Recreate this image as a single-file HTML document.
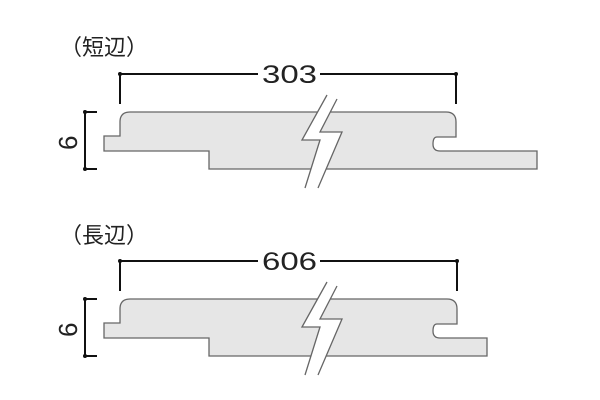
<!DOCTYPE html>
<html><head><meta charset="utf-8"><style>
html,body{margin:0;padding:0;background:#fff;width:600px;height:400px;overflow:hidden}
</style></head><body>
<svg width="600" height="400" viewBox="0 0 600 400" xmlns="http://www.w3.org/2000/svg">
<g font-family="'Liberation Sans','Noto Sans CJK JP',sans-serif" fill="#222" font-size="22">
<text x="60" y="55">（短辺）</text>
<text x="60" y="243">（長辺）</text>
</g>
<g stroke="#666" stroke-width="1.3" fill="#e6e6e6">
<path d="M104,136 H120 V122 Q120,112 130,112 H446 Q456,112 456,122 V137 H437 Q433,137 433,144 Q433,151 440,151 H537 V169 H209 V151 H104 Z"/>
<path d="M104,323 H120 V309 Q120,299 130,299 H447 Q457,299 457,309 V324 H437 Q433,324 433,331 Q433,338 440,338 H487 V356 H209 V338 H104 Z"/>
</g>
<g>
<polygon points="327,95 302,140 320,140 305,188 318,188 342,132 320,132 337,99" fill="#fff"/>
<polyline points="327,95 302,140 320,140 305,188" fill="none" stroke="#666" stroke-width="1.3"/>
<polyline points="337,99 320,132 342,132 318,188" fill="none" stroke="#666" stroke-width="1.3"/>
<polygon points="327,282 302,327 320,327 305,375 318,375 342,319 320,319 337,286" fill="#fff"/>
<polyline points="327,282 302,327 320,327 305,375" fill="none" stroke="#666" stroke-width="1.3"/>
<polyline points="337,286 320,319 342,319 318,375" fill="none" stroke="#666" stroke-width="1.3"/>
</g>
<g stroke="#111" stroke-width="2" fill="none">
<path d="M120,104 V74 H258 M320,74 H456 V104"/>
<path d="M120,291 V261 H258 M320,261 H457 V291"/>
<path d="M97,112 H85 V169 H97"/>
<path d="M97,299 H85 V356 H97"/>
</g>
<g fill="#111">
<circle cx="120" cy="74" r="2"/><circle cx="456" cy="74" r="2"/>
<circle cx="120" cy="261" r="2"/><circle cx="457" cy="261" r="2"/>
<circle cx="85" cy="112" r="2"/><circle cx="85" cy="169" r="2"/>
<circle cx="85" cy="299" r="2"/><circle cx="85" cy="356" r="2"/>
</g>
<g font-family="'Liberation Sans',sans-serif" font-size="25" fill="#222">
<text x="262" y="83" textLength="55" lengthAdjust="spacingAndGlyphs">303</text>
<text x="262" y="270" textLength="55" lengthAdjust="spacingAndGlyphs">606</text>
<text transform="translate(77,150) rotate(-90)" font-size="26">6</text>
<text transform="translate(77,337) rotate(-90)" font-size="26">6</text>
</g>
</svg>
</body></html>
